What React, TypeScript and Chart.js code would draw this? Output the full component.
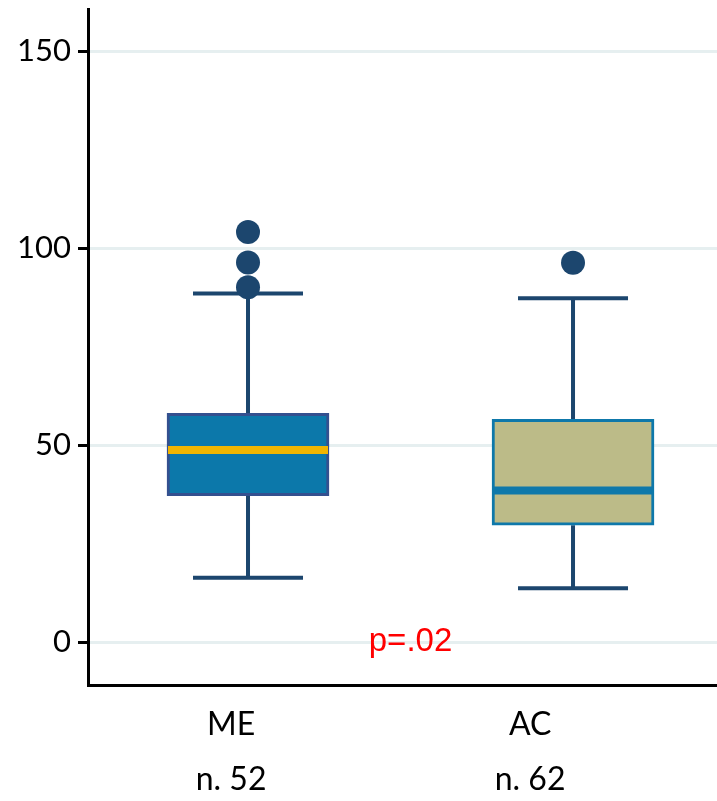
import React, { useEffect, useRef } from "react";
import { Chart, registerables } from "chart.js";

Chart.register(...registerables);

const categories = ["ME", "AC"];
const sampleSizes = ["n. 52", "n. 62"];
const positions = [1, 2];
const whiskerLow = [16.4, 13.7];
const q1 = [37.2, 29.7];
const medians = [48.8, 38.5];
const q3 = [58.1, 56.6];
const whiskerHigh = [88.5, 87.3];
const outliersME = [90.1, 96.4, 104.1];
const outliersAC = [96.3];
const yTicks = [0, 50, 100, 150];
const labelPositions = [0.948, 1.868];
const pText = "p=.02";

const boxFill = ["#0c78aa", "#bcbb88"];
const boxBorder = ["#34508f", "#0e78aa"];
const medianColor = ["#f1b500", "#0e78aa"];
const darkBlue = "#1c466e";

export default function App() {
  const ref = useRef<HTMLCanvasElement>(null);
  useEffect(() => {
    document.body.style.margin = "0";
    document.body.style.overflow = "hidden";
    const canvas = ref.current!;
    const boxPlugin = {
      id: "boxParts",
      beforeDatasetsDraw(chart: any) {
        const { ctx, scales } = chart;
        const xs = scales.x, ys = scales.y;
        ctx.save();
        ctx.strokeStyle = darkBlue;
        ctx.lineWidth = 4;
        ctx.lineCap = "butt";
        positions.forEach((p, i) => {
          const cx = xs.getPixelForValue(p);
          ctx.beginPath();
          ctx.moveTo(cx, ys.getPixelForValue(whiskerLow[i]));
          ctx.lineTo(cx, ys.getPixelForValue(q1[i]));
          ctx.moveTo(cx, ys.getPixelForValue(q3[i]));
          ctx.lineTo(cx, ys.getPixelForValue(whiskerHigh[i]));
          ctx.stroke();
          ctx.beginPath();
          ctx.moveTo(cx - 55, ys.getPixelForValue(whiskerLow[i]));
          ctx.lineTo(cx + 55, ys.getPixelForValue(whiskerLow[i]));
          ctx.moveTo(cx - 55, ys.getPixelForValue(whiskerHigh[i]));
          ctx.lineTo(cx + 55, ys.getPixelForValue(whiskerHigh[i]));
          ctx.stroke();
        });
        ctx.restore();
      },
      afterDatasetsDraw(chart: any) {
        const { ctx, scales } = chart;
        const xs = scales.x, ys = scales.y;
        ctx.save();
        positions.forEach((p, i) => {
          const cx = xs.getPixelForValue(p);
          const y = ys.getPixelForValue(medians[i]);
          ctx.strokeStyle = medianColor[i];
          ctx.lineWidth = 8;
          ctx.beginPath();
          ctx.moveTo(cx - 80, y);
          ctx.lineTo(cx + 80, y);
          ctx.stroke();
        });
        ctx.fillStyle = "#ff0000";
        ctx.font = "33px 'Liberation Sans', Arial, sans-serif";
        ctx.textAlign = "center";
        ctx.textBaseline = "middle";
        ctx.fillText(pText, xs.getPixelForValue(1.5), ys.getPixelForValue(0));
        ctx.restore();
      },
    };
    const zeroPad = (s: any) => {
      s.paddingTop = 0;
      s.paddingBottom = 0;
      s.paddingLeft = 0;
      s.paddingRight = 0;
    };
    const chart = new Chart(canvas, {
      type: "bar",
      data: {
        datasets: [
          {
            type: "scatter",
            data: [
              ...outliersME.map((v) => ({ x: positions[0], y: v })),
              ...outliersAC.map((v) => ({ x: positions[1], y: v })),
            ],
            backgroundColor: darkBlue,
            borderColor: darkBlue,
            pointRadius: 12,
            borderWidth: 0,
            order: 0,
          } as any,
          {
            type: "bar",
            data: positions.map((p, i) => ({ x: p, y: [q1[i], q3[i]] })),
            backgroundColor: boxFill,
            borderColor: boxBorder,
            borderWidth: 3,
            borderSkipped: false,
            barThickness: 162,
            order: 1,
          } as any,
        ],
      },
      options: {
        animation: false,
        responsive: false,
        maintainAspectRatio: false,
        layout: { autoPadding: false, padding: { top: 9, left: 0, right: 0, bottom: 0 } },
        plugins: { legend: { display: false }, tooltip: { enabled: false } },
        scales: {
          x: {
            type: "linear",
            offset: false,
            bounds: "data",
            min: 0.5077,
            max: 2.443,
            afterBuildTicks: (s: any) => {
              s.ticks = labelPositions.map((v) => ({ value: v }));
            },
            afterFit: (s: any) => {
              s.height = 116;
              zeroPad(s);
            },
            grid: { display: false, drawTicks: false },
            border: { display: true, color: "#000", width: 3 },
            ticks: {
              padding: 12,
              color: "#000",
              maxRotation: 0,
              autoSkip: false,
              font: { family: "Lato", size: 32, lineHeight: 1.72 },
              callback: (_v: any, i: number) => [categories[i], sampleSizes[i]],
            },
          },
          y: {
            type: "linear",
            min: -10.84,
            max: 160.7,
            afterBuildTicks: (s: any) => {
              s.ticks = yTicks.map((v) => ({ value: v }));
            },
            afterFit: (s: any) => {
              s.width = 88;
              zeroPad(s);
            },
            grid: {
              color: "#e6eff0",
              lineWidth: 3,
              tickColor: "#000",
              tickWidth: 3,
              tickLength: 10,
              drawTicks: true,
            },
            border: { display: true, color: "#000", width: 3 },
            ticks: {
              padding: 7,
              color: "#000",
              font: { family: "Lato", size: 31 },
            },
          },
        },
      },
      plugins: [boxPlugin],
    } as any);
    return () => chart.destroy();
  }, []);
  return (
    <div style={{ width: 717, height: 801, background: "#fff", overflow: "hidden" }}>
      <canvas ref={ref} width={717} height={801} style={{ display: "block" }} />
    </div>
  );
}
